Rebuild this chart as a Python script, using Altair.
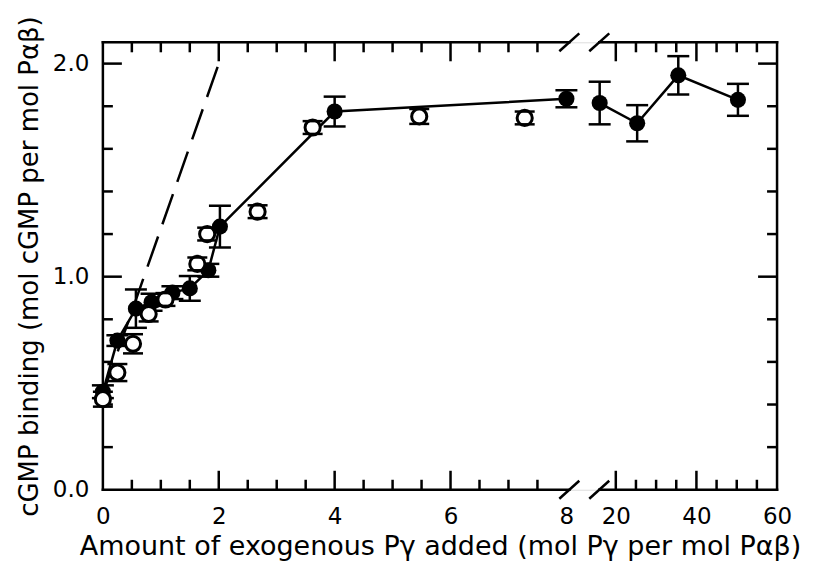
import altair as alt
import pandas as pd

# ---- data ----
# filled circles (connected by the solid line)
filled_x = [0.0, 0.25, 0.57, 0.84, 1.2, 1.5, 1.82, 2.02, 4.0, 8.0, 16.0, 25.3, 35.5, 50.3]
filled_y = [0.46, 0.70, 0.85, 0.88, 0.925, 0.945, 1.03, 1.235, 1.775, 1.835, 1.815, 1.72, 1.945, 1.83]
filled_err = [0.03, 0.025, 0.09, 0.04, 0.03, 0.058, 0.03, 0.098, 0.07, 0.04, 0.10, 0.085, 0.09, 0.075]
filled_seg = ["low"] * 10 + ["high"] * 4

# open circles
open_x = [0.0, 0.25, 0.52, 0.79, 1.08, 1.63, 1.80, 2.67, 3.62, 5.46, 7.28]
open_y = [0.425, 0.55, 0.685, 0.825, 0.893, 1.06, 1.20, 1.305, 1.70, 1.752, 1.745]
open_err = [0.035, 0.04, 0.045, 0.035, 0.03, 0.03, 0.03, 0.03, 0.03, 0.035, 0.03]

# dashed reference line
dash_x = [0.0, 2.0]
dash_y = [0.45, 2.0]

# axes
x_label_values = [0, 2, 4, 6, 8, 20, 40, 60]
y_label_values = [0.0, 1.0, 2.0]
x_major = [2, 4, 6, 20, 40]
x_minor = [0.5, 1, 1.5, 2.5, 3, 3.5, 4.5, 5, 5.5, 6.5, 7, 7.5, 25, 30, 35, 45, 50, 55]
y_major = [1.0, 2.0]
y_minor = [0.2, 0.4, 0.6, 0.8, 1.2, 1.4, 1.6, 1.8]
x_break_left = 8.05   # end of first x segment
x_break_right = 15.9  # start of second x segment
x_max = 60
y_max = 2.1

W, H = 675, 448
MAJ, MIN = 19, 10
LW = 2.5
FONT = "DejaVu Sans"

xscale = alt.Scale(domain=[0, x_break_left, x_break_right, x_max],
                   range=[0, 467, 497, W], nice=False, zero=False)
yscale = alt.Scale(domain=[0, y_max], nice=False, zero=False)

filled = pd.DataFrame({"x": filled_x, "y": filled_y, "err": filled_err, "seg": filled_seg})
filled["lo"] = filled["y"] - filled["err"]
filled["hi"] = filled["y"] + filled["err"]
opn = pd.DataFrame({"x": open_x, "y": open_y, "err": open_err})
opn["lo"] = opn["y"] - opn["err"]
opn["hi"] = opn["y"] + opn["err"]
dash = pd.DataFrame({"x": dash_x, "y": dash_y})

X_TITLE = "Amount of exogenous P\u03b3 added (mol P\u03b3 per mol P\u03b1\u03b2)"
Y_TITLE = "cGMP binding (mol cGMP per mol P\u03b1\u03b2)"
x_axis = alt.Axis(values=x_label_values, format="d", ticks=False, domain=False, grid=False,
                  labelPadding=16, labelFlush=False, labelOverlap=False,
                  labelFont=FONT, labelFontSize=23, labelColor="black",
                  title=X_TITLE, titlePadding=5, titleFontSize=27)
y_axis = alt.Axis(values=y_label_values, format=".1f", ticks=False, domain=False, grid=False,
                  labelPadding=14, labelFlush=False, labelOverlap=False,
                  labelFont=FONT, labelFontSize=23, labelColor="black",
                  title=Y_TITLE, titlePadding=10, titleFontSize=26)


def xs(f="x"):
    return alt.X(f"{f}:Q", scale=xscale, axis=x_axis, title=X_TITLE)


def ys(f="y"):
    return alt.Y(f"{f}:Q", scale=yscale, axis=y_axis, title=Y_TITLE)


# frame
hseg = pd.DataFrame({"x": [0, x_break_right], "x2": [x_break_left, x_max]})
vseg = pd.DataFrame({"x": [0, x_max]})
frame_top = alt.Chart(hseg).mark_rule(color="black", strokeWidth=LW, strokeCap="square").encode(
    x=xs(), x2="x2:Q", y=alt.value(0))
frame_bot = alt.Chart(hseg).mark_rule(color="black", strokeWidth=LW, strokeCap="square").encode(
    x=xs(), x2="x2:Q", y=alt.value(H))
frame_v = alt.Chart(vseg).mark_rule(color="black", strokeWidth=LW, strokeCap="square").encode(
    x=xs(), y=alt.value(0), y2=alt.value(H))

brk = pd.DataFrame({"x": [x_break_left, x_break_right]})
slash_top = alt.Chart(brk).mark_rule(color="black", strokeWidth=LW, xOffset=-10, x2Offset=10,
                                     yOffset=9, y2Offset=-9).encode(
    x=xs(), x2="x:Q", y=alt.value(0), y2=alt.value(0))
slash_bot = alt.Chart(brk).mark_rule(color="black", strokeWidth=LW, xOffset=-10, x2Offset=10,
                                     yOffset=9, y2Offset=-9).encode(
    x=xs(), x2="x:Q", y=alt.value(H), y2=alt.value(H))


def xticks(vals, size):
    d = pd.DataFrame({"x": vals})
    b = alt.Chart(d).mark_rule(color="black", strokeWidth=LW).encode(
        x=xs(), y=alt.value(H), y2=alt.value(H - size))
    t = alt.Chart(d).mark_rule(color="black", strokeWidth=LW).encode(
        x=xs(), y=alt.value(0), y2=alt.value(size))
    return [b, t]


def yticks(vals, size):
    d = pd.DataFrame({"y": vals})
    l = alt.Chart(d).mark_rule(color="black", strokeWidth=LW).encode(
        y=ys(), x=alt.value(0), x2=alt.value(size))
    r = alt.Chart(d).mark_rule(color="black", strokeWidth=LW).encode(
        y=ys(), x=alt.value(W), x2=alt.value(W - size))
    return [l, r]


dash_line = alt.Chart(dash).mark_line(color="black", strokeWidth=LW, strokeDash=[32, 13]).encode(
    x=xs(), y=ys())

f_bar = alt.Chart(filled).mark_rule(color="black", strokeWidth=LW).encode(x=xs(), y=ys("lo"), y2="hi:Q")
f_cap_lo = alt.Chart(filled).mark_rule(color="black", strokeWidth=LW, xOffset=-11, x2Offset=11).encode(
    x=xs(), x2="x:Q", y=ys("lo"))
f_cap_hi = alt.Chart(filled).mark_rule(color="black", strokeWidth=LW, xOffset=-11, x2Offset=11).encode(
    x=xs(), x2="x:Q", y=ys("hi"))
f_line = alt.Chart(filled).mark_line(color="black", strokeWidth=LW).encode(
    x=xs(), y=ys(), detail="seg:N")
f_pts = alt.Chart(filled).mark_circle(color="black", size=260, opacity=1).encode(x=xs(), y=ys())

o_bar = alt.Chart(opn).mark_rule(color="black", strokeWidth=LW).encode(x=xs(), y=ys("lo"), y2="hi:Q")
o_pts = alt.Chart(opn).mark_circle(fill="white", stroke="black", strokeWidth=3, size=230,
                                   opacity=1, fillOpacity=1).encode(x=xs(), y=ys())
o_cap_lo = alt.Chart(opn).mark_rule(color="black", strokeWidth=LW, xOffset=-10, x2Offset=10).encode(
    x=xs(), x2="x:Q", y=ys("lo"))
o_cap_hi = alt.Chart(opn).mark_rule(color="black", strokeWidth=LW, xOffset=-10, x2Offset=10).encode(
    x=xs(), x2="x:Q", y=ys("hi"))

layers = [dash_line, frame_top, frame_bot, frame_v, slash_top, slash_bot]
layers += xticks(x_major, MAJ) + xticks(x_minor, MIN) + yticks(y_major, MAJ) + yticks(y_minor, MIN)
layers += [f_bar, f_cap_lo, f_cap_hi, f_line, f_pts, o_bar, o_pts, o_cap_lo, o_cap_hi]

chart = alt.layer(*layers).properties(
    width=W, height=H,
    autosize=alt.AutoSizeParams(type="none"),
    padding={"left": 95, "top": 34, "right": 40, "bottom": 75},
).configure_view(strokeWidth=0).configure(background="white").configure_axis(
    labelFont=FONT, labelFontSize=23, labelColor="black",
    titleFont=FONT, titleFontWeight="normal", titleColor="black",
)

chart.save("out.html", embed_options={"renderer": "svg", "actions": False})
